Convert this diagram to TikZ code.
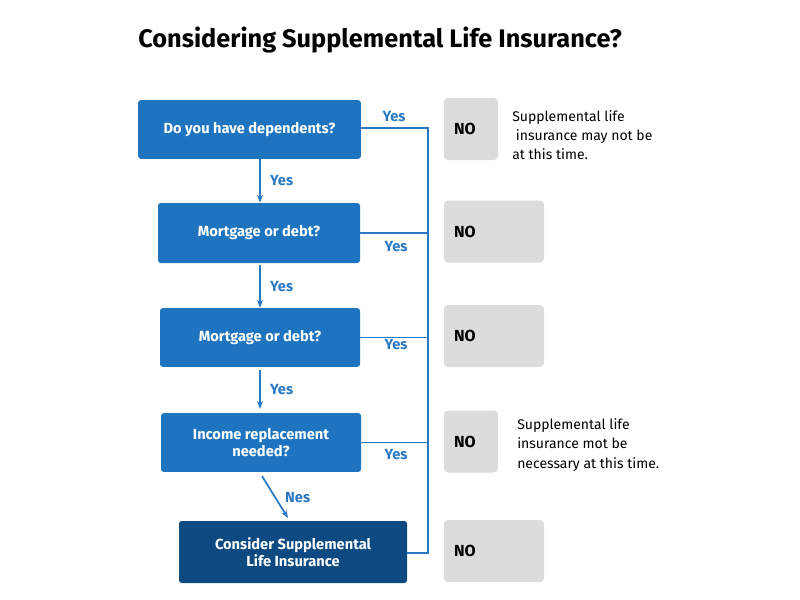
\documentclass[tikz,border=0pt]{standalone}
\usepackage{fontspec}
\setmainfont{Fira Sans}
\usetikzlibrary{arrows.meta,positioning,calc}
\definecolor{qblue}{HTML}{1F74BF}
\definecolor{qnavy}{HTML}{0D4A82}
\definecolor{nogray}{HTML}{DCDCDC}
\definecolor{lineblue}{HTML}{2A78C2}
\begin{document}
\begin{tikzpicture}[x=0.75pt, y=-0.75pt, >={Stealth[length=6pt]}, every node/.style={font=\small}]
            % styles for question, final and answer boxes
            \tikzset{
                qbox/.style={rectangle, rounded corners=2pt, fill=qblue, text=white, align=center,
                    font=\fontsize{11}{13}\selectfont\bfseries, inner sep=2pt},
                nobox/.style={rectangle, rounded corners=3pt, fill=nogray, align=left, inner xsep=7.5pt,
                    font=\fontsize{12}{14}\selectfont\bfseries, minimum height=46.5pt},
                ylab/.style={text=lineblue, font=\fontsize{11}{13}\selectfont\bfseries, inner sep=1pt},
                note/.style={align=left, font=\fontsize{10.5}{14.5}\selectfont, inner sep=0pt},
                conn/.style={draw=lineblue, line width=1.3pt}
            }
            \useasboundingbox (0,0) rectangle (800,600);
            \node[font=\fontsize{19}{22}\selectfont\bfseries] (title) at (380,40) {Considering Supplemental Life Insurance?};
            % question boxes
            \node[qbox, minimum width=167pt, minimum height=44pt] (q1) at (249.5,129.5) {Do you have dependents?};
            \node[qbox, minimum width=151.5pt, minimum height=45pt] (q2) at (259,233) {Mortgage or debt?};
            \node[qbox, minimum width=150pt, minimum height=44pt] (q3) at (260,337.5) {Mortgage or debt?};
            \node[qbox, minimum width=150pt, minimum height=44pt] (q4) at (261,442.5) {Income replacement\\needed?};
            \node[qbox, fill=qnavy, minimum width=171pt, minimum height=46.5pt] (q5) at (293,552) {Consider Supplemental\\Life Insurance};
            % answer boxes
            \node[nobox, text width=25.5pt] (n1) at (471,129) {NO};
            \node[nobox, text width=60pt] (n2) at (494,231.5) {NO};
            \node[nobox, text width=60pt] (n3) at (494,336) {NO};
            \node[nobox, text width=25.5pt] (n4) at (471,441.5) {NO};
            \node[nobox, text width=60pt] (n5) at (494,551) {NO};
            \node[note, anchor=west] (t1) at (512,135) {Supplemental life\\\ insurance may not be\\at this time.};
            \node[note, anchor=west] (t4) at (517,445) {Supplemental life\\insurance mot be\\necessary at this time.};
            % down arrows
            \draw[conn, ->] (q1.south -| 260,0) -- node[ylab, right=6pt] {Yes} (q2.north -| 260,0);
            \draw[conn, ->] ($(q2.south -| 260,0)+(0,2)$) -- node[ylab, right=6pt] {Yes} (q3.north -| 260,0);
            \draw[conn, ->] ($(q3.south -| 260,0)+(0,3)$) -- node[ylab, right=6pt] {Yes} ($(q4.north -| 260,0)+(0,-4)$);
            \coordinate (dn) at (288,518);
            \draw[conn, ->] ($(q4.south -| 262,0)+(0,4)$) -- node[ylab, right=6pt] {Nes} (dn);
            % trunk on the right
            \coordinate (top) at (428,128);
            \coordinate (bot) at (428,553);
            \draw[conn] (q1.east |- top) -- (top) -- (bot) -- (q5.east |- bot);
            \draw[conn] (q2.east) -- (q2.east -| top);
            \draw[conn] (q3.east) -- (q3.east -| top);
            \draw[conn] (q4.east) -- (q4.east -| top);
            \node[ylab] (y1) at (394,117) {Yes};
            \node[ylab] (y2) at (396,247) {Yes};
            \node[ylab] (y3) at (396,345) {Yes};
            \node[ylab] (y4) at (396,455) {Yes};
        \end{tikzpicture}
\end{document}
